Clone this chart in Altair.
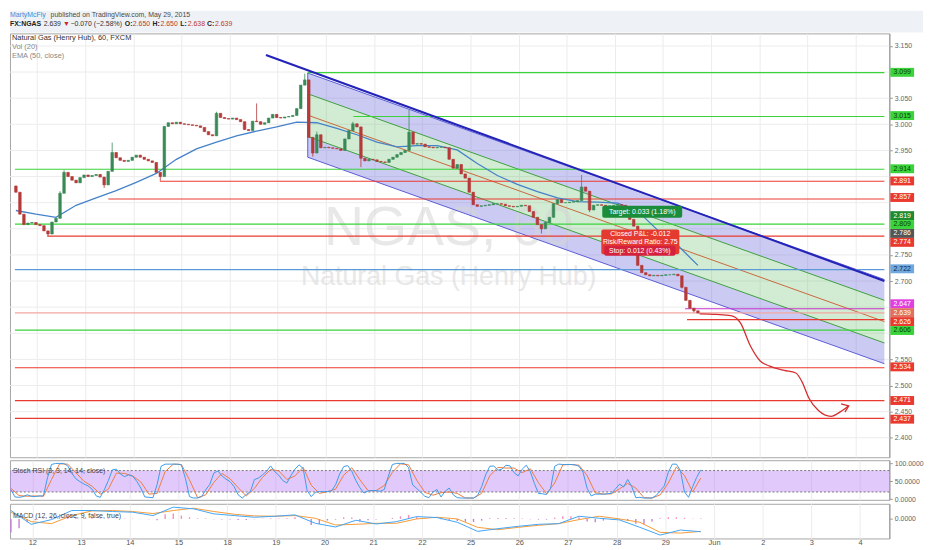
import altair as alt
import pandas as pd

# FX:NGAS hourly chart, 12 May - 29 May 2015 (re-sampled to 2-hour candles)
W = 888
H_HEAD, H_MAIN, H_STOCH, H_MACD = 22, 428, 40, 35
X0, X1 = -0.46, 17.60          # visible range in trading days (0 = May 12)
T0, STEP = -0.44, 1 / 12       # first candle, 2-hour spacing
P0, P1 = 2.3627, 3.174
FONT = "Liberation Sans"

UP, DOWN = "#3a8a58", "#b53a3a"
GREEN, RED, DKGREEN = "#3ad43a", "#ea3a30", "#1f8a2e"

day_labels = ["12", "13", "14", "15", "18", "19", "20", "21", "22",
              "25", "26", "27", "28", "29", "Jun", "2", "3", "4"]
price_ticks = [2.40, 2.45, 2.50, 2.55, 2.60, 2.65, 2.70, 2.75, 2.80,
               2.85, 2.90, 2.95, 3.00, 3.05, 3.10, 3.15]
# labels that are not hidden behind the coloured price tags
price_labels = [2.40, 2.45, 2.50, 2.55, 2.70, 2.75, 2.95, 3.00, 3.05, 3.15]

first_open = 2.882
closes = [
    2.870, 2.828, 2.808, 2.811, 2.812, 2.808, 2.806, 2.796, 2.790, 2.813, 2.820, 2.868,
    2.908, 2.900, 2.893, 2.888, 2.898, 2.903, 2.900, 2.902, 2.904, 2.899, 2.884, 2.910,
    2.946, 2.936, 2.931, 2.929, 2.931, 2.937, 2.941, 2.937, 2.933, 2.930, 2.927, 2.908,
    2.900, 2.996, 3.003, 3.001, 3.004, 3.001, 3.000, 2.999, 2.998, 2.997, 2.994, 2.986,
    2.980, 2.978, 3.021, 3.013, 3.011, 3.010, 3.012, 3.009, 3.005, 2.990, 2.988, 3.006,
    3.005, 3.000, 3.003, 3.012, 3.019, 3.013, 3.012, 3.014, 3.015, 3.017, 3.030, 3.075,
    3.085, 2.975, 2.945, 2.980, 2.955, 2.956, 2.955, 2.954, 2.953, 2.950, 2.972, 2.988,
    3.001, 2.995, 2.935, 2.930, 2.933, 2.932, 2.929, 2.928, 2.927, 2.933, 2.937, 2.942,
    2.946, 2.950, 2.985, 2.962, 2.963, 2.962, 2.957, 2.956, 2.955, 2.956, 2.956, 2.955,
    2.933, 2.916, 2.923, 2.905, 2.897, 2.870, 2.846, 2.843, 2.844, 2.845, 2.846, 2.848,
    2.848, 2.847, 2.844, 2.843, 2.842, 2.843, 2.845, 2.844, 2.833, 2.822, 2.808, 2.800,
    2.812, 2.822, 2.848, 2.856, 2.850, 2.850, 2.851, 2.852, 2.854, 2.880, 2.872, 2.836,
    2.845, 2.846, 2.845, 2.843, 2.844, 2.845, 2.846, 2.845, 2.833, 2.818, 2.805, 2.730,
    2.716, 2.712, 2.710, 2.711, 2.710, 2.711, 2.712, 2.712, 2.713, 2.710, 2.688, 2.663,
    2.648, 2.643, 2.639,
]
spike_high = {11: 2.872, 12: 2.912, 24: 2.965, 50: 3.024, 60: 3.040, 72: 3.097,
              75: 2.986, 84: 3.005, 98: 3.028, 141: 2.903}
spike_low = {8: 2.786, 22: 2.878, 36: 2.892, 74: 2.938, 86: 2.918, 131: 2.791,
             143: 2.832, 166: 2.686, 169: 2.640, 170: 2.638}

# EMA(50) read every 5th candle
ema50 = [2.835, 2.828, 2.822, 2.845, 2.859, 2.873, 2.889, 2.906, 2.933, 2.953,
         2.966, 2.978, 2.987, 2.995, 3.004, 3.003, 2.992, 2.980, 2.966, 2.957,
         2.959, 2.959, 2.951, 2.925, 2.902, 2.885, 2.871, 2.859, 2.852, 2.851,
         2.849, 2.834, 2.797, 2.768, 2.730]

# Stoch RSI %K every candle, %D every 2nd candle
stoch_k = [
    26, 6, 5, 7, 12, 8, 7, 9, 9, 60, 97, 100,
    100, 100, 93, 72, 57, 49, 42, 37, 28, 9, 5, 26,
    52, 82, 84, 70, 63, 68, 64, 50, 31, 6, 5, 4,
    40, 92, 98, 98, 98, 98, 96, 58, 7, 3, 3, 7,
    26, 41, 73, 79, 65, 56, 49, 35, 12, 3, 13, 21,
    55, 59, 68, 78, 93, 77, 67, 52, 45, 66, 84, 96,
    86, 24, 7, 19, 21, 21, 21, 23, 40, 70, 91, 94,
    78, 52, 32, 17, 23, 24, 24, 22, 27, 64, 97, 100,
    100, 100, 88, 40, 30, 19, 8, 4, 20, 27, 6, 22,
    31, 12, 4, 3, 3, 3, 3, 10, 35, 68, 92, 93,
    81, 84, 95, 93, 74, 65, 84, 95, 77, 44, 16, 15,
    13, 30, 92, 98, 97, 97, 97, 96, 92, 75, 30, 9,
    14, 14, 14, 15, 16, 29, 42, 34, 55, 35, 4, 5,
    3, 3, 3, 10, 23, 37, 75, 98, 98, 80, 20, 5,
    35, 61, 82,
]
stoch_d = [
    30, 10, 8, 9, 8, 55, 99, 98, 74, 50, 36, 14,
    28, 73, 72, 65, 48, 14, 16, 77, 98, 97, 54, 4,
    12, 47, 72, 57, 32, 9, 30, 61, 83, 79, 55, 65,
    89, 39, 16, 21, 28, 67, 88, 54, 24, 24, 38, 75,
    99, 96, 53, 19, 11, 18, 20, 16, 3, 3, 16, 65,
    89, 87, 87, 74, 85, 46, 15, 45, 96, 97, 95, 66,
    18, 14, 15, 29, 44, 31, 4, 3, 12, 45, 90, 66,
    20, 59,
]

# MACD (pane units, only zero is labelled): lines every 5th candle, histogram every 2nd
macd_line = [25, -16, -2, 25, 25, 22, 20, 10, 35, 30, 15, 10, 5, 8, 12, -13, -24, -4,
             -15, -8, 7, 4, -10, -37, -29, -22, -16, -14, 8, 2, -3, -25, -48, -33, -38]
macd_signal = [20, -8, -14, 10, 24, 25, 22, 16, 25, 32, 22, 14, 9, 8, 10, 2, -18, -16,
               -13, -13, 0, 5, 0, -25, -32, -25, -19, -14, -2, 8, 0, -10, -40, -42, -37]
macd_hist = [
    -40, -28, -10, -4, 2, 8, 14, 10, 5, 3, 2, 1, 2, 1, 1, 1, 0, -1, -4, 14,
    16, 10, 5, 2, 1, -1, -2, -2, -3, -3, -1, 1, 2, 1, 2, 5, 3, -18, -15, -5,
    -2, 5, 4, -8, -4, -2, 0, 3, 8, 12, 6, 2, 0, -1, -3, -6, -8, -9, -5, 2,
    3, 3, 2, 1, -1, -2, -2, 4, 8, 8, 5, -8, -10, -5, -2, -2, -6, -14, -16, -8,
    2, 5, 5, 3, 1, 1,
]

# horizontal levels drawn on the chart
level_price = [3.099, 3.015, 2.914, 2.891, 2.857, 2.809, 2.786, 2.722,
               2.647, 2.639, 2.626, 2.606, 2.534, 2.471, 2.437]
level_color = [GREEN, GREEN, GREEN, RED, RED, GREEN, RED, "#5b9bd5",
               "#cc33cc", "#f3a7a0", RED, GREEN, RED, RED, RED]
level_start = [5.62, 6.57, X0, 2.55, 1.48, X0, 0.21, X0,
               13.46, X0, 13.50, X0, X0, X0, X0]

# price scale tags (stacked so they do not cover each other)
tag_text = ["3.099", "3.015", "2.914", "2.891", "2.857", "2.819", "2.809", "2.786", "2.774",
            "2.722", "2.647", "2.639", "2.626", "2.606", "2.534", "2.471", "2.437"]
tag_pos = [3.0995, 3.0167, 2.9149, 2.8916, 2.8599, 2.8252, 2.8082, 2.7911, 2.7740,
           2.7234, 2.6565, 2.6395, 2.6224, 2.6053, 2.5357, 2.4713, 2.4356]
tag_bg = [GREEN, GREEN, GREEN, RED, RED, DKGREEN, GREEN, "#555555", RED,
          "#6fa8dc", "#e040e0", "#e0705f", RED, GREEN, RED, RED, RED]
tag_fg = ["#0b3d0b", "#0b3d0b", "#0b3d0b", "white", "white", "white", "#0b3d0b", "white", "white",
          "#10263d", "white", "white", "white", "#0b3d0b", "white", "white", "white"]

# regression channel and trend line
ch_t = [5.622, 17.60]
ch_mid = [3.0176, 2.6223]
ch_outer, ch_inner = 0.0806, 0.0408
trend_t = [4.754, 17.60]
trend_p = [3.1327, 2.7001]

# hand drawn red arrow
arrow_t = [13.76, 14.11, 14.41, 14.61, 14.81, 15.02, 15.22, 15.52, 15.76,
           15.89, 16.03, 16.23, 16.49, 16.69, 16.85]
arrow_p = [2.637, 2.636, 2.634, 2.620, 2.577, 2.547, 2.537, 2.529, 2.524,
           2.507, 2.476, 2.452, 2.441, 2.450, 2.461]
head_t = [16.70, 16.86, 16.78]
head_p = [2.465, 2.461, 2.449]

# position tool labels
box_t0 = [11.74, 11.72, 11.78]
box_t1 = [13.40, 13.34, 13.26]
box_p0 = [2.8213, 2.7513, 2.7484]
box_p1 = [2.8440, 2.7987, 2.7674]
box_col = ["#1b8c3a", "#e53a2f", "#d4213d"]
note_text = ["Target: 0.033 (1.18%)", "Closed P&L: -0.012", "Risk/Reward Ratio: 2.75",
             "Stop: 0.012 (0.43%)"]
note_t = [12.57, 12.53, 12.53, 12.52]
note_p = [2.8326, 2.7892, 2.7740, 2.7579]

# header pieces: text, x offset, line, colour, bold
head_text = ["MartyMcFly", "published on TradingView.com, May 29, 2015",
             "FX:NGAS", "2.639", "\u25bc", "\u22120.070 (\u22122.58%)",
             "O:", "2.650", "H:", "2.650", "L:", "2.638", "C:", "2.639"]
head_x = [0, 41, 0, 34, 53.5, 61, 116, 124, 144, 152, 172, 179.5, 199, 207]
head_y = [4, 4, 14, 14, 14, 14, 14, 14, 14, 14, 14, 14, 14, 14]
head_col = ["#3c8dd8", "#4a4a4a", "#222", "#333", "#c62828", "#333",
            "#222", "#c0392b", "#222", "#c0392b", "#222", "#c0392b", "#222", "#c0392b"]
head_bold = [False, False, True, False, False, False,
             True, False, True, False, True, False, True, False]


# ---------------- frames
candle_rows = []
prev = first_open
for k, c in enumerate(closes):
    o = prev
    candle_rows.append(dict(t=T0 + STEP * k, o=o, c=c,
                            h=spike_high.get(k, max(o, c)),
                            l=spike_low.get(k, min(o, c)),
                            col=UP if c >= o else DOWN))
    prev = c
candles = pd.DataFrame(candle_rows)

ema = pd.DataFrame({"t": [T0 + 5 * STEP * j for j in range(len(ema50))], "v": ema50})
sk = pd.DataFrame({"t": [T0 + STEP * j for j in range(len(stoch_k))], "v": stoch_k})
sd = pd.DataFrame({"t": [T0 + 2 * STEP * j for j in range(len(stoch_d))], "v": stoch_d})
ml = pd.DataFrame({"t": [T0 + 5 * STEP * j for j in range(len(macd_line))], "v": macd_line})
ms = pd.DataFrame({"t": [T0 + 5 * STEP * j for j in range(len(macd_signal))], "v": macd_signal})
mh = pd.DataFrame({"t": [T0 + 2 * STEP * j for j in range(len(macd_hist))], "h": macd_hist})
mh["z"] = 0
mh["col"] = ["#f48fc0" if h >= 0 else "#c77ddb" for h in macd_hist]

chan = pd.DataFrame({"t": ch_t, "mid": ch_mid})
chan["out_hi"] = chan["mid"] + ch_outer
chan["in_hi"] = chan["mid"] + ch_inner
chan["in_lo"] = chan["mid"] - ch_inner
chan["out_lo"] = chan["mid"] - ch_outer

levels = pd.DataFrame({"p": level_price, "color": level_color, "t0": level_start})
levels["t1"] = X1
tags = pd.DataFrame({"text": tag_text, "pos": tag_pos, "bg": tag_bg, "fg": tag_fg})
gridlines = pd.DataFrame({"p": price_ticks})
trend = pd.DataFrame({"t": trend_t, "p": trend_p})
arrow = pd.DataFrame({"t": arrow_t, "p": arrow_p, "o": range(len(arrow_t))})
head = pd.DataFrame({"t": head_t, "p": head_p, "o": range(len(head_t))})
boxes = pd.DataFrame({"t0": box_t0, "t1": box_t1, "p0": box_p0, "p1": box_p1, "col": box_col})
notes = pd.DataFrame({"text": note_text, "t": note_t, "p": note_p})
one = pd.DataFrame({"a": [0]})

# ---------------- scales / axes
xscale = alt.Scale(domain=[X0, X1], nice=False, zero=False)
day_vals = list(range(len(day_labels)))
grid_x = alt.Axis(values=day_vals, labels=False, ticks=False, domain=False,
                  title=None, grid=True, gridColor="#ececec")
yscale = alt.Scale(domain=[P0, P1], nice=False, zero=False)
yaxis = alt.Axis(orient="right", values=price_labels, format=".3f", title=None,
                 grid=False, labelFontSize=7, labelColor="#666",
                 tickColor="#999", tickSize=3, domainColor="#999", labelPadding=2)


def X(f="t"):
    return alt.X(f, type="quantitative", scale=xscale, axis=grid_x)


def Y(f):
    return alt.Y(f, type="quantitative", scale=yscale, axis=yaxis)


# ---------------- header
head_layers = []
for txt, px, py, col, bold in zip(head_text, head_x, head_y, head_col, head_bold):
    head_layers.append(alt.Chart(one).mark_text(
        text=txt, align="left", baseline="middle", fontSize=7, font=FONT,
        color=col, fontWeight="bold" if bold else "normal"
    ).encode(x=alt.value(px), y=alt.value(py)))
header = alt.layer(*head_layers).properties(
    width=922, height=H_HEAD, view=alt.ViewBackground(fill="#eef1f5", stroke=None))

# ---------------- main pane
main_layers = [
    alt.Chart(gridlines).mark_rule(color="#ececec").encode(y=Y("p")),
    alt.Chart(chan).mark_area(color="#6666dd", opacity=0.35).encode(
        x=X(), y=Y("in_hi"), y2="out_hi"),
    alt.Chart(chan).mark_area(color="#6666dd", opacity=0.35).encode(
        x=X(), y=Y("out_lo"), y2="in_lo"),
    alt.Chart(chan).mark_area(color="#4caf50", opacity=0.25).encode(
        x=X(), y=Y("in_lo"), y2="in_hi"),
    alt.Chart(one).mark_text(text="NGAS, 60", fontSize=56, font=FONT,
                             color="#d6d6d6", opacity=0.55).encode(
        x=alt.value(443), y=alt.value(197)),
    alt.Chart(one).mark_text(text="Natural Gas (Henry Hub)", fontSize=27, font=FONT,
                             color="#d6d6d6", opacity=0.55).encode(
        x=alt.value(443), y=alt.value(246)),
]
for f, col in [("out_hi", "#5c5cd4"), ("in_hi", "#3f9f3f"), ("mid", "#c8683c"),
               ("in_lo", "#3f9f3f"), ("out_lo", "#5c5cd4")]:
    main_layers.append(alt.Chart(chan).mark_line(color=col, strokeWidth=1).encode(x=X(), y=Y(f)))
main_layers += [
    alt.Chart(chan.iloc[[0]]).mark_rule(color="#5c5cd4").encode(x=X(), y=Y("out_lo"), y2="out_hi"),
    alt.Chart(levels).mark_rule(strokeWidth=1.2).encode(
        x=X("t0"), x2="t1", y=Y("p"), color=alt.Color("color:N", scale=None)),
    alt.Chart(trend).mark_line(color="#2323b8", strokeWidth=2).encode(x=X(), y=Y("p")),
    alt.Chart(ema).mark_line(color="#4682c8", strokeWidth=1.3).encode(x=X(), y=Y("v")),
    alt.Chart(candles).mark_rule(strokeWidth=0.8).encode(
        x=X(), y=Y("l"), y2="h", color=alt.Color("col:N", scale=None)),
    alt.Chart(candles).mark_bar(size=2.6, strokeWidth=0.6).encode(
        x=X(), y=Y("o"), y2="c", color=alt.Color("col:N", scale=None),
        stroke=alt.Color("col:N", scale=None)),
    alt.Chart(boxes.iloc[:2]).mark_rect(cornerRadius=2).encode(
        x=X("t0"), x2="t1", y=Y("p0"), y2="p1", color=alt.Color("col:N", scale=None)),
    alt.Chart(boxes.iloc[[2]]).mark_rect(cornerRadius=2).encode(
        x=X("t0"), x2="t1", y=Y("p0"), y2="p1", color=alt.Color("col:N", scale=None)),
    alt.Chart(notes).mark_text(fontSize=7, font=FONT, color="white").encode(
        x=X(), y=Y("p"), text="text:N"),
    alt.Chart(arrow).mark_line(color="#d32f2f", strokeWidth=1.3, interpolate="monotone").encode(
        x=X(), y=Y("p"), order="o:Q"),
    alt.Chart(head).mark_line(color="#d32f2f", strokeWidth=1.3).encode(
        x=X(), y=Y("p"), order="o:Q"),
    alt.Chart(tags).mark_tick(orient="horizontal", thickness=9, size=24, opacity=1).encode(
        x=alt.value(W + 13), y=Y("pos"), color=alt.Color("bg:N", scale=None)),
    alt.Chart(tags).mark_text(fontSize=7, font=FONT).encode(
        x=alt.value(W + 13), y=Y("pos"), text="text:N", color=alt.Color("fg:N", scale=None)),
]
for txt, py, col in [("Natural Gas (Henry Hub), 60, FXCM", 5, "#333"),
                     ("Vol (20)", 14, "#888"), ("EMA (50, close)", 23, "#888")]:
    main_layers.append(alt.Chart(one).mark_text(
        text=txt, align="left", baseline="middle", fontSize=7.5, font=FONT, color=col
    ).encode(x=alt.value(2), y=alt.value(py)))
main = alt.layer(*main_layers).properties(
    width=W, height=H_MAIN, view=alt.ViewBackground(stroke="#a6a6a6"))

# ---------------- stoch RSI pane
s_scale = alt.Scale(domain=[-2, 109], nice=False, zero=False)
s_axis = alt.Axis(orient="right", values=[0, 50, 100], format=".4f", title=None, grid=False,
                  labelFontSize=7, labelColor="#666", tickColor="#999", tickSize=3,
                  domainColor="#999", labelPadding=2)
band = pd.DataFrame({"t0": [X0], "t1": [X1], "lo": [20], "hi": [80]})
stoch = alt.layer(
    alt.Chart(band).mark_rect(color="#b57af5", opacity=0.4).encode(
        x=X("t0"), x2="t1", y=alt.Y("lo:Q", scale=s_scale, axis=s_axis), y2="hi"),
    alt.Chart(pd.DataFrame({"v": [20, 80]})).mark_rule(color="#777", strokeDash=[2, 2]).encode(
        y=alt.Y("v:Q", scale=s_scale, axis=s_axis)),
    alt.Chart(sd).mark_line(color="#f07b3f", strokeWidth=1).encode(
        x=X(), y=alt.Y("v:Q", scale=s_scale, axis=s_axis)),
    alt.Chart(sk).mark_line(color="#3d9be9", strokeWidth=1).encode(
        x=X(), y=alt.Y("v:Q", scale=s_scale, axis=s_axis)),
    alt.Chart(one).mark_text(text="Stoch RSI (3, 3, 14, 14, close)", align="left",
                             baseline="middle", fontSize=7, font=FONT, color="#444").encode(
        x=alt.value(3), y=alt.value(11)),
).properties(width=W, height=H_STOCH, view=alt.ViewBackground(stroke="#a6a6a6"))

# ---------------- MACD pane
m_scale = alt.Scale(domain=[-58, 45], nice=False, zero=False)
m_axis = alt.Axis(orient="right", values=[0], format=".4f", title=None, grid=False,
                  labelFontSize=7, labelColor="#666", tickColor="#999", tickSize=3,
                  domainColor="#999", labelPadding=2)
labels_js = "[" + ",".join("'%s'" % d for d in day_labels) + "]"
x_bottom = alt.Axis(values=day_vals, labelExpr=labels_js + "[datum.value]", title=None,
                    grid=True, gridColor="#ececec", ticks=False, domain=False,
                    labelFontSize=7.5, labelColor="#555", labelPadding=0)


def XB(f="t"):
    return alt.X(f, type="quantitative", scale=xscale, axis=x_bottom)


macd = alt.layer(
    alt.Chart(mh).mark_rule(strokeWidth=1.4).encode(
        x=XB(), y=alt.Y("h:Q", scale=m_scale, axis=m_axis), y2="z",
        color=alt.Color("col:N", scale=None)),
    alt.Chart(ms).mark_line(color="#f59b3a", strokeWidth=1).encode(
        x=XB(), y=alt.Y("v:Q", scale=m_scale, axis=m_axis)),
    alt.Chart(ml).mark_line(color="#42a5f5", strokeWidth=1).encode(
        x=XB(), y=alt.Y("v:Q", scale=m_scale, axis=m_axis)),
    alt.Chart(one).mark_text(text="MACD (12, 26, close, 9, false, true)", align="left",
                             baseline="middle", fontSize=7, font=FONT, color="#444").encode(
        x=alt.value(3), y=alt.value(12)),
).properties(width=W, height=H_MACD, view=alt.ViewBackground(stroke="#a6a6a6"))

chart = alt.vconcat(header, main, stoch, macd, spacing=0).properties(
    padding=0, background="white"
).configure_axis(labelFont=FONT).configure_text(font=FONT)

chart.save("out.html", embed_options={"renderer": "svg", "actions": False})
